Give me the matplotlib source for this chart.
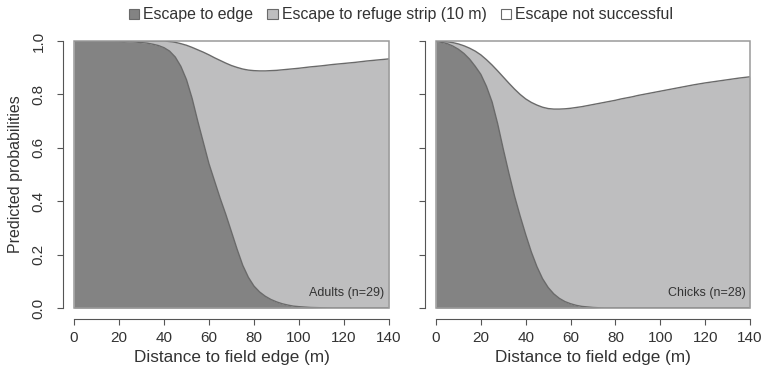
import matplotlib
matplotlib.use("Agg")
import matplotlib.pyplot as plt
from matplotlib.patches import Patch, Rectangle

plt.rcParams["font.family"] = ["Liberation Sans", "DejaVu Sans"]

# distance to field edge (m)
distance = [0, 2.5, 5, 7.5, 10, 12.5, 15, 17.5, 20, 22.5, 25, 27.5, 30,
            32.5, 35, 37.5, 40, 42.5, 45, 47.5, 50, 52.5, 55, 57.5, 60,
            62.5, 65, 67.5, 70, 72.5, 75, 77.5, 80, 82.5, 85, 87.5, 90,
            92.5, 95, 97.5, 100, 105, 110, 115, 120, 125, 130, 135, 140]

# cumulative predicted probabilities: edge, edge + refuge strip
adults_edge = [1.0, 1.0, 1.0, 1.0, 1.0, 1.0, 1.0, 1.0, 0.999,
               0.998, 0.997, 0.996, 0.994, 0.992, 0.988, 0.983, 0.975,
               0.962, 0.94, 0.905, 0.855, 0.785, 0.70, 0.62, 0.54,
               0.475, 0.41, 0.35, 0.285, 0.22, 0.16, 0.115, 0.082,
               0.06, 0.044, 0.032, 0.023, 0.016, 0.011, 0.007, 0.005,
               0.002, 0.001, 0.0, 0.0, 0.0, 0.0, 0.0, 0.0]
adults_refuge = [1.0] * 17 + [
    0.998, 0.995, 0.99, 0.984, 0.976, 0.967, 0.958, 0.948,
    0.937, 0.927, 0.917, 0.908, 0.901, 0.895, 0.891, 0.889,
    0.888, 0.888, 0.889, 0.89, 0.892, 0.894, 0.896, 0.898,
    0.903, 0.907, 0.912, 0.916, 0.92, 0.925, 0.929, 0.933]

chicks_edge = [0.998, 0.995, 0.99, 0.981, 0.969, 0.953, 0.932, 0.905,
               0.875, 0.83, 0.772, 0.69, 0.595, 0.505, 0.42, 0.345,
               0.275, 0.21, 0.155, 0.11, 0.077, 0.053, 0.036, 0.024,
               0.016, 0.01, 0.006, 0.004, 0.002, 0.001] + [0.0] * 19
chicks_refuge = [1.0, 0.999, 0.997, 0.994, 0.989, 0.982, 0.973, 0.962,
                 0.948, 0.93, 0.91, 0.888, 0.865, 0.842, 0.82, 0.80,
                 0.783, 0.77, 0.76, 0.752, 0.747, 0.745, 0.745, 0.746,
                 0.748, 0.751, 0.754, 0.758, 0.762, 0.766, 0.77, 0.774,
                 0.778, 0.783, 0.787, 0.791, 0.796, 0.80, 0.804, 0.808,
                 0.812, 0.82, 0.828, 0.836, 0.843, 0.849, 0.855, 0.861,
                 0.866]

x_ticks = [0, 20, 40, 60, 80, 100, 120, 140]
y_ticks = [0.0, 0.2, 0.4, 0.6, 0.8, 1.0]
y_labels = ["0.0", "0.2", "0.4", "0.6", "0.8", "1.0"]
legend_labels = ["Escape to edge", "Escape to refuge strip (10 m)",
                 "Escape not successful"]

DARK = "#838383"
LIGHT = "#bebebf"
LINE = "#6a6a6a"
FRAME = "#9a9a9a"
AXIS = "#555555"
TEXT = "#333333"

W, H = 766, 372
fig = plt.figure(figsize=(W / 100, H / 100), dpi=100)


def panel(left_px, right_px, edge, refuge, label, show_ylabels):
    ax = fig.add_axes([left_px / W, 1 - 308 / H,
                       (right_px - left_px) / W, (308 - 41) / H])
    ax.fill_between(distance, 0, edge, color=DARK, lw=0)
    ax.fill_between(distance, edge, refuge, color=LIGHT, lw=0)
    ax.plot(distance, edge, color=LINE, lw=1.0)
    ax.plot(distance, refuge, color=LINE, lw=1.0)
    ax.set_xlim(0, 140)
    ax.set_ylim(0, 1)
    ax.add_patch(Rectangle((0, 0), 1, 1, transform=ax.transAxes,
                           fill=False, ec=FRAME, lw=1.1, zorder=5,
                           clip_on=False))
    for s in ("top", "right"):
        ax.spines[s].set_visible(False)
    for s in ("left", "bottom"):
        ax.spines[s].set_position(("outward", 8))
        ax.spines[s].set_color(AXIS)
        ax.spines[s].set_linewidth(0.8)
    ax.set_xticks(x_ticks)
    ax.set_yticks(y_ticks)
    ax.tick_params(colors=AXIS, labelcolor=TEXT, labelsize=11,
                   length=4.5, width=0.8)
    ax.tick_params(axis="x", pad=4)
    if show_ylabels:
        ax.set_yticklabels(y_labels, rotation=90, va="center")
        ax.tick_params(axis="y", pad=8)
        ax.set_ylabel("Predicted probabilities", fontsize=11.5, color=TEXT,
                      labelpad=6)
    else:
        ax.set_yticklabels([])
    ax.set_xlabel("Distance to field edge (m)", fontsize=12.3, color=TEXT,
                  labelpad=4)
    ax.text(0.985, 0.055, label, transform=ax.transAxes, ha="right",
            va="center", fontsize=9, color=TEXT)
    return ax


panel(74, 389, adults_edge, adults_refuge, "Adults (n=29)", True)
panel(436, 750, chicks_edge, chicks_refuge, "Chicks (n=28)", False)

handles = [Patch(fc=DARK, ec=LINE, lw=0.8),
           Patch(fc=LIGHT, ec=LINE, lw=0.8),
           Patch(fc="white", ec=LINE, lw=0.8)]
fig.legend(handles, legend_labels, loc="center", ncol=3,
           bbox_to_anchor=(401 / W, 1 - 15 / H), frameon=False,
           fontsize=11.4, handlelength=0.65, handleheight=0.65,
           handletextpad=0.25, columnspacing=0.9, labelcolor=TEXT)

fig.savefig("out.png", dpi=100)
